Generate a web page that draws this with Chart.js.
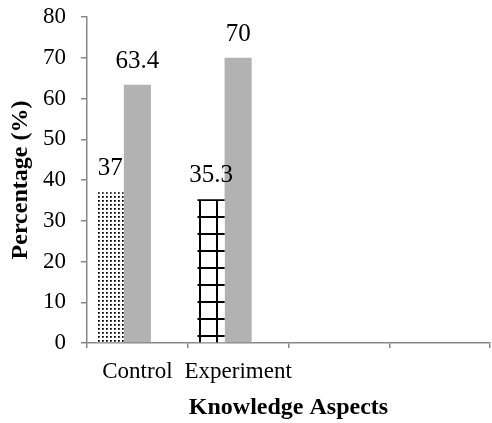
<!DOCTYPE html>
<html>
<head>
<meta charset="utf-8">
<script src="https://cdn.jsdelivr.net/npm/chart.js@4/dist/chart.umd.min.js"></script>
<style>
  html, body { margin: 0; padding: 0; background: #ffffff; }
  #wrap { width: 492px; height: 423px; position: relative; }
</style>
</head>
<body>
<div id="wrap"><canvas id="chart"></canvas></div>
<script>
// Groups on the horizontal axis (the last two slots are left empty)
const categories = ['Control', 'Experiment', '', ''];
// First bar of each group (hatched) and second bar (solid grey)
const patternedValues = [37, 35.3, null, null];
const grayValues = [63.4, 70, null, null];
// Third, unused bar slot of each group
const spacerValues = [null, null, null, null];
// Vertical axis range and step
const yMin = 0;
const yMax = 80;
const yStep = 10;

const SERIF = '"Liberation Serif", "Times New Roman", serif';
const AXIS_COLOR = '#878787';
const GRAY_FILL = '#b2b2b2';

// Dotted fill
function makeDotPattern() {
  const c = document.createElement('canvas');
  c.width = 4; c.height = 4;
  const g = c.getContext('2d');
  g.fillStyle = '#ffffff';
  g.fillRect(0, 0, 4, 4);
  g.fillStyle = '#000000';
  g.fillRect(0, 0, 1, 1);
  g.fillStyle = '#333333';
  g.fillRect(1, 0, 1, 1);
  g.fillRect(0, 1, 1, 1);
  g.fillStyle = '#777777';
  g.fillRect(1, 1, 1, 1);
  return g.createPattern(c, 'repeat');
}

// Large square grid fill
function makeGridPattern() {
  const c = document.createElement('canvas');
  c.width = 17; c.height = 17;
  const g = c.getContext('2d');
  g.fillStyle = '#ffffff';
  g.fillRect(0, 0, 17, 17);
  g.fillStyle = '#000000';
  g.fillRect(0, 0, 17, 2);
  g.fillRect(0, 0, 2, 17);
  return g.createPattern(c, 'repeat');
}

const ctx = document.getElementById('chart').getContext('2d');
const patterns = [makeDotPattern(), makeGridPattern(), '#ffffff', '#ffffff'];

// Anchor each pattern at the top-left corner of its bar
const patternAnchor = {
  id: 'patternAnchor',
  beforeDatasetsDraw(chart) {
    const meta = chart.getDatasetMeta(0);
    meta.data.forEach((el, i) => {
      const p = patterns[i];
      if (p && typeof p === 'object' && p.setTransform) {
        const left = Math.round(el.x - el.width / 2) + 1;
        const top = Math.round(el.y);
        p.setTransform(new DOMMatrix([1, 0, 0, 1, left, top]));
      }
    });
  }
};

// Value labels above bars
const valueLabels = {
  id: 'valueLabels',
  afterDatasetsDraw(chart) {
    const c = chart.ctx;
    c.save();
    c.font = '25px ' + SERIF;
    c.fillStyle = '#000000';
    c.textAlign = 'center';
    c.textBaseline = 'alphabetic';
    [0, 1].forEach(di => {
      const meta = chart.getDatasetMeta(di);
      const values = chart.data.datasets[di].data;
      meta.data.forEach((el, i) => {
        const v = values[i];
        if (v === null || v === undefined) return;
        c.fillText(String(v), el.x, el.y - 17);
      });
    });
    c.restore();
  }
};

new Chart(ctx, {
  type: 'bar',
  data: {
    labels: categories,
    datasets: [
      { data: patternedValues, backgroundColor: patterns, borderWidth: 0 },
      { data: grayValues, backgroundColor: GRAY_FILL, borderWidth: 0 },
      { data: spacerValues, backgroundColor: '#ffffff', borderWidth: 0 }
    ]
  },
  options: {
    responsive: true,
    maintainAspectRatio: false,
    animation: false,
    devicePixelRatio: 1,
    layout: { padding: { top: 17, right: 2, left: 0, bottom: 0 } },
    datasets: { bar: { categoryPercentage: 0.806, barPercentage: 1.0 } },
    plugins: { legend: { display: false }, tooltip: { enabled: false } },
    scales: {
      x: {
        type: 'category',
        afterFit(scale) {
          scale.height = 80;
          scale.paddingLeft = 0;
          scale.paddingRight = 0;
        },
        grid: {
          display: true, drawOnChartArea: false, drawTicks: true,
          tickLength: 5, color: AXIS_COLOR, lineWidth: 1.5, offset: true
        },
        border: { display: true, color: AXIS_COLOR, width: 1.5 },
        ticks: {
          autoSkip: false, maxRotation: 0, padding: 10, color: '#000000',
          font: { family: SERIF, size: 23 }
        },
        title: {
          display: true, text: 'Knowledge Aspects', color: '#000000',
          font: { family: SERIF, size: 24, weight: 'bold' },
          padding: { top: 0, bottom: 1 }
        }
      },
      y: {
        min: yMin, max: yMax,
        afterFit(scale) {
          scale.width = 87;
          scale.paddingTop = 0;
          scale.paddingBottom = 0;
        },
        grid: {
          display: true, drawOnChartArea: false, drawTicks: true,
          tickLength: 6, color: AXIS_COLOR, lineWidth: 1.5
        },
        border: { display: true, color: AXIS_COLOR, width: 1.5 },
        ticks: {
          stepSize: yStep, padding: 15, color: '#000000',
          font: { family: SERIF, size: 23 }
        },
        title: {
          display: true, text: 'Percentage (%)', color: '#000000',
          font: { family: SERIF, size: 24, weight: 'bold' },
          padding: { top: 6, bottom: 0 }
        }
      }
    }
  },
  plugins: [patternAnchor, valueLabels]
});
</script>
</body>
</html>
